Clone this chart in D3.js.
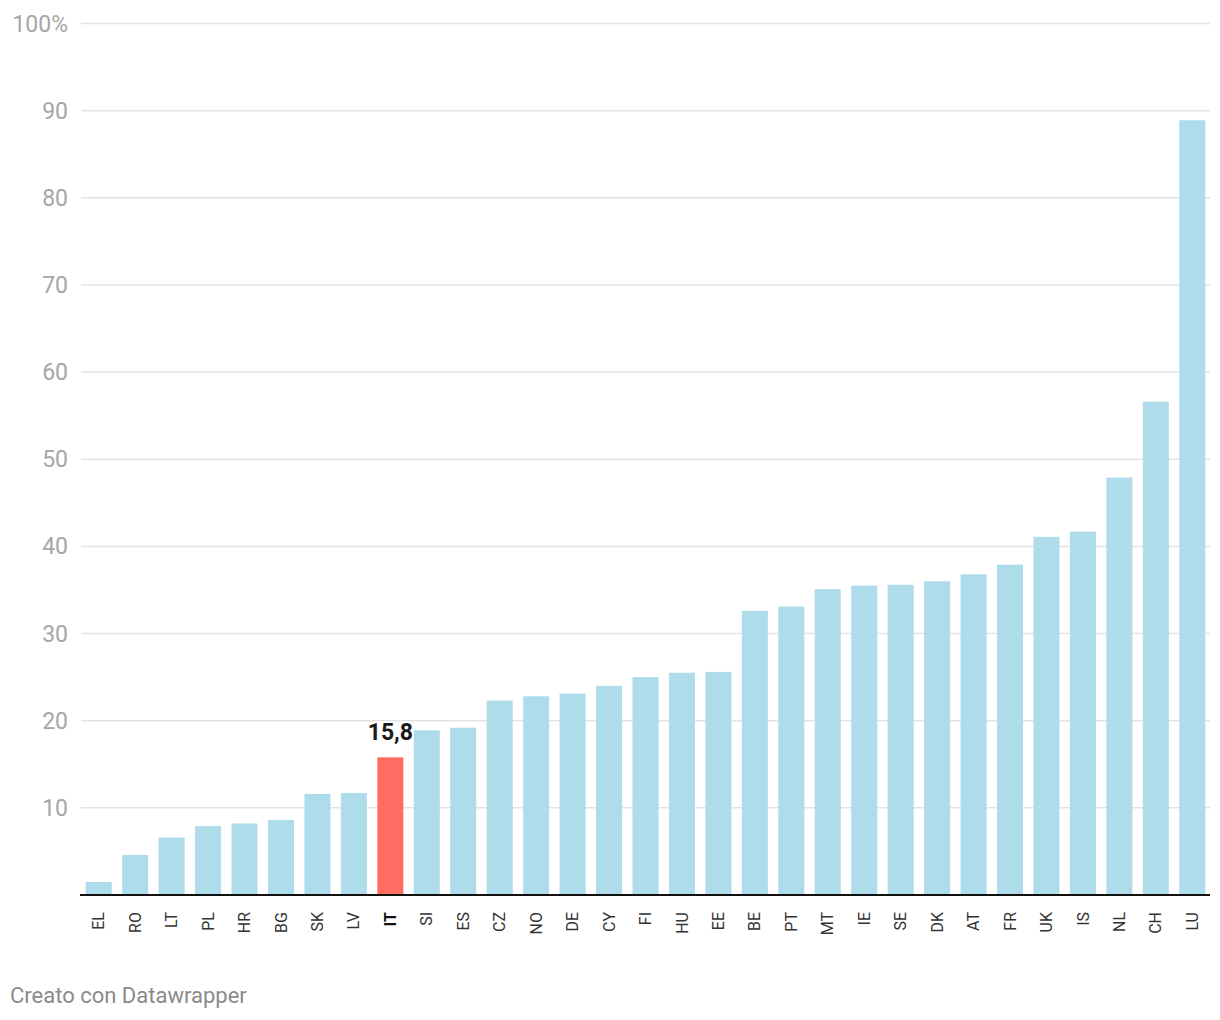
<!DOCTYPE html>
<html>
<head>
<meta charset="utf-8">
<script src="https://cdn.jsdelivr.net/npm/d3@7"></script>
<style>
body{margin:0;background:#fff;font-family:Roboto,"Noto Sans",sans-serif;}
</style>
</head>
<body>
<svg id="chart" width="1220" height="1020"></svg>
<script>
const categories = ["EL","RO","LT","PL","HR","BG","SK","LV","IT","SI","ES","CZ","NO","DE","CY","FI","HU","EE","BE","PT","MT","IE","SE","DK","AT","FR","UK","IS","NL","CH","LU"];
const values = [1.5,4.6,6.6,7.9,8.2,8.6,11.6,11.7,15.8,18.9,19.2,22.3,22.8,23.1,24.0,25.0,25.5,25.6,32.6,33.1,35.1,35.5,35.6,36.0,36.8,37.9,41.1,41.7,47.9,56.6,88.9];
const yTicks = [10,20,30,40,50,60,70,80,90,100];
const highlight = "IT";
const highlightLabel = "15,8";
const footer = "Creato con Datawrapper";

const data = categories.map((c,i)=>({cat:c,val:values[i]}));
const svg = d3.select("#chart");

const x = d3.scaleBand().domain(categories).range([80.5,1210.5]).paddingInner(0.286).paddingOuter(0.143);
const y = d3.scaleLinear().domain([0,100]).range([895,23.5]);

// grid
const grid = svg.append("g");
grid.selectAll("line").data(yTicks).join("line")
  .attr("x1",81).attr("x2",1210)
  .attr("y1",d=>y(d)).attr("y2",d=>y(d))
  .attr("stroke","#e3e3e3").attr("stroke-width",1.5);

// y labels
svg.append("g").selectAll("text").data(yTicks).join("text")
  .attr("x",68).attr("y",d=>y(d)).attr("dy","0.35em")
  .attr("text-anchor","end")
  .attr("font-size",23).attr("fill","#a6a6a6")
  .text(d=>d===100?"100%":d);

// bars
svg.append("g").selectAll("rect").data(data).join("rect")
  .attr("x",d=>x(d.cat)).attr("width",x.bandwidth())
  .attr("y",d=>y(d.val)).attr("height",d=>y(0)-y(d.val))
  .attr("fill",d=>d.cat===highlight?"#ff6c61":"#aedceb");

// baseline
svg.append("line").attr("x1",80).attr("x2",1210).attr("y1",y(0)).attr("y2",y(0))
  .attr("stroke","#111").attr("stroke-width",2);

// x labels
svg.append("g").selectAll("text").data(data).join("text")
  .attr("transform",d=>`translate(${x(d.cat)+x.bandwidth()/2},912) rotate(-90)`)
  .attr("dy","0.35em").attr("text-anchor","end")
  .attr("font-size",16)
  .attr("font-weight",d=>d.cat===highlight?"bold":"normal")
  .attr("fill",d=>d.cat===highlight?"#111":"#333")
  .text(d=>d.cat);

// highlight value label
const hd = data.find(d=>d.cat===highlight);
svg.append("text")
  .attr("x",x(hd.cat)+x.bandwidth()/2).attr("y",y(hd.val)-17)
  .attr("text-anchor","middle").attr("font-size",23).attr("font-weight","bold")
  .attr("fill","#1a1a1a").attr("stroke","#fff").attr("stroke-width",3).attr("paint-order","stroke")
  .text(highlightLabel);

// footer
svg.append("text").attr("x",10).attr("y",1003)
  .attr("font-size",22).attr("fill","#8a8a8a").text(footer);
</script>
</body>
</html>
